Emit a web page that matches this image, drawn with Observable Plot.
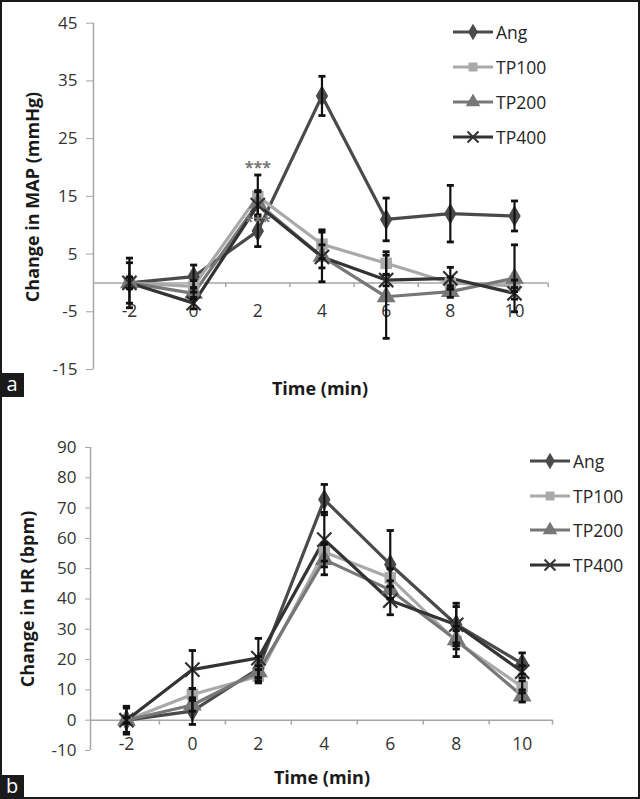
<!DOCTYPE html>
<html><head><meta charset="utf-8">
<script src="https://cdn.jsdelivr.net/npm/d3@7"></script>
<script src="https://cdn.jsdelivr.net/npm/@observablehq/plot@0.6"></script>
<style>
body{margin:0;background:#fff;}
#wrap{position:relative;width:640px;height:799px;overflow:hidden;font-family:"Open Sans",sans-serif;background:#fff;}
#frame{position:absolute;left:0;top:0;width:640px;height:799px;box-sizing:border-box;border:2px solid #1a1a1a;pointer-events:none;z-index:5;}
.panel{position:absolute;left:0;}
.ytitle{position:absolute;font-weight:bold;font-size:18px;color:#1a1a1a;white-space:nowrap;transform:translate(-50%,-50%) rotate(-90deg);}
.xtitle{position:absolute;font-weight:bold;font-size:18px;color:#1a1a1a;white-space:nowrap;transform:translate(-50%,-50%);}
.tag{position:absolute;left:0;width:24px;height:24px;background:#1a1a1a;color:#fff;font-size:20px;line-height:22px;text-align:center;z-index:6;}
.leg{position:absolute;display:flex;align-items:center;font-size:17.5px;color:#262626;height:22px;transform:translateY(-50%);}
.leg svg{margin-right:3px;}
</style></head>
<body>
<div id="wrap">
  <div id="frame"></div>
  <div id="pa" class="panel" style="top:0"></div>
  <div id="pb" class="panel" style="top:400px"></div>
  <div class="ytitle" style="left:32px;top:197px">Change in MAP (mmHg)</div>
  <div class="xtitle" style="left:320px;top:388px">Time (min)</div>
  <div class="ytitle" style="left:27px;top:599px">Change in HR (bpm)</div>
  <div class="xtitle" style="left:322px;top:777px">Time (min)</div>
  <div class="tag" style="top:373px">a</div>
  <div class="tag" style="top:775px">b</div>
  <div id="lega"></div>
  <div id="legb"></div>
</div>
<script>
// ---- data ----
const times = [-2, 0, 2, 4, 6, 8, 10];
const seriesNames = ["Ang", "TP100", "TP200", "TP400"];

// Panel a: Change in MAP (mmHg)
const mapAng      = [0, 1.1, 9.0, 32.4, 11.0, 12.0, 11.6];
const mapAngErr   = [4.3, 2.0, 2.7, 3.4, 3.7, 4.9, 2.6];
const mapTP100    = [0, -0.6, 15.0, 6.7, 3.4, 0.0, -0.5];
const mapTP100Err = [1.0, 1.0, 3.7, 2.5, 2.0, 1.0, 1.0];
const mapTP200    = [0, -1.8, 13.8, 4.6, -2.4, -1.5, 0.8];
const mapTP200Err = [1.0, 1.0, 2.0, 2.0, 7.2, 1.0, 5.8];
const mapTP400    = [0, -3.5, 13.5, 4.5, 0.5, 0.8, -1.8];
const mapTP400Err = [3.5, 1.0, 2.5, 4.3, 1.0, 1.9, 1.0];
const mapYTicks = [-15, -5, 5, 15, 25, 35, 45];
const mapStars = [{t: 2, v: 19.9, label: "***"}, {t: 2, v: 10.6, label: "***"}];

// Panel b: Change in HR (bpm)
const hrAng      = [0, 3.0, 17.0, 72.8, 51.4, 31.6, 18.7];
const hrAngErr   = [4.6, 4.4, 4.0, 5.0, 11.2, 7.0, 3.5];
const hrTP100    = [0, 8.5, 14.5, 55.5, 47.0, 26.0, 11.0];
const hrTP100Err = [1.0, 2.0, 2.2, 3.0, 3.0, 5.0, 2.0];
const hrTP200    = [0, 5.0, 16.0, 53.0, 43.0, 26.5, 8.0];
const hrTP200Err = [1.0, 2.0, 2.0, 5.0, 3.0, 3.0, 2.0];
const hrTP400    = [0, 16.7, 20.5, 59.6, 39.5, 31.5, 16.0];
const hrTP400Err = [4.0, 6.3, 6.5, 9.0, 4.7, 6.0, 2.0];
const hrYTicks = [-10, 0, 10, 20, 30, 40, 50, 60, 70, 80, 90];

// ---- styles ----
const colors  = {Ang: "#4a4a4a", TP100: "#a9a9a9", TP200: "#777777", TP400: "#333333"};
const symbols = {Ang: "diamond", TP100: "square", TP200: "triangle", TP400: "times"};
const radii   = {Ang: 6.5, TP100: 6.5, TP200: 7, TP400: 6.5};
const axisGray = "#a6a6a6";
const textGray = "#333333";

function rowsFor(vals, errs) {
  return seriesNames.map((s, k) => times.map((t, i) => ({s, t, v: vals[k][i], e: errs[k][i]})));
}

function panel({vals, errs, yDomain, yTicks, xDomain, margins, height, tickLen, labelDy, cap, stars, ytickSize}) {
  const groups = rowsFor(vals, errs);
  const bounds = times.slice(1).map((t, i) => (t + times[i]) / 2).concat([xDomain[1]]);
  const marks = [
    Plot.ruleY([0], {x1: xDomain[0], x2: xDomain[1], stroke: axisGray, strokeWidth: 1.5}),
    Plot.ruleX([xDomain[0]], {y1: yDomain[0], y2: yDomain[1], stroke: axisGray, strokeWidth: 1.5}),
    Plot.ruleX(bounds, {y1: 0, y2: -tickLen, stroke: axisGray, strokeWidth: 1.5}),
    Plot.axisY(yTicks, {anchor: "left", label: null, tickSize: ytickSize, tickPadding: 9, stroke: axisGray, fill: textGray, fontSize: 17, tickFormat: d => String(d)}),
    Plot.text(times, {x: d => d, y: 0, dy: labelDy, text: d => String(d), fontSize: 17.5, fill: textGray})
  ];
  for (const g of groups) {
    const s = g[0].s;
    marks.push(Plot.line(g, {x: "t", y: "v", stroke: colors[s], strokeWidth: 3.2}));
  }
  for (const g of groups) {
    const s = g[0].s;
    const isX = symbols[s] === "times";
    marks.push(Plot.dot(g, {x: "t", y: "v", symbol: symbols[s], r: radii[s],
      fill: isX ? "none" : colors[s], stroke: isX ? colors[s] : "none", strokeWidth: isX ? 2.2 : 0}));
  }
  for (const g of groups) {
    marks.push(Plot.ruleX(g, {x: "t", y1: d => d.v - d.e, y2: d => d.v + d.e, stroke: "#111", strokeWidth: 2.2}));
    marks.push(Plot.link(g, {x1: d => d.t - cap, x2: d => d.t + cap, y1: d => d.v + d.e, y2: d => d.v + d.e, stroke: "#111", strokeWidth: 2.8}));
    marks.push(Plot.link(g, {x1: d => d.t - cap, x2: d => d.t + cap, y1: d => d.v - d.e, y2: d => d.v - d.e, stroke: "#111", strokeWidth: 2.8}));
  }
  if (stars) marks.push(Plot.text(stars, {x: "t", y: "v", text: "label", fontSize: 16, fill: "#777", fontWeight: "bold"}));
  return Plot.plot({
    width: 640, height,
    marginTop: margins[0], marginRight: margins[1], marginBottom: margins[2], marginLeft: margins[3],
    x: {domain: xDomain, axis: null},
    y: {domain: yDomain, axis: null},
    style: {fontFamily: "Open Sans, sans-serif", fontSize: "16px", background: "transparent", overflow: "visible", color: textGray},
    marks
  });
}

document.getElementById("pa").appendChild(panel({
  vals: [mapAng, mapTP100, mapTP200, mapTP400],
  errs: [mapAngErr, mapTP100Err, mapTP200Err, mapTP400Err],
  yDomain: [-15, 45], yTicks: mapYTicks, xDomain: [-3.12, 11.05],
  margins: [22.7, 92.3, 30, 93], height: 399, tickLen: 0.8, labelDy: 28, cap: 0.11, stars: mapStars, ytickSize: 7
}));
document.getElementById("pb").appendChild(panel({
  vals: [hrAng, hrTP100, hrTP200, hrTP400],
  errs: [hrAngErr, hrTP100Err, hrTP200Err, hrTP400Err],
  yDomain: [-10, 90], yTicks: hrYTicks, xDomain: [-3.09, 10.92],
  margins: [47, 88, 49, 90], height: 399, tickLen: 1.6, labelDy: 24, cap: 0.11, stars: null, ytickSize: 5
}));

function legend(el, left, top0, step) {
  seriesNames.forEach((s, i) => {
    const row = document.createElement("div");
    row.className = "leg";
    row.style.left = left + "px";
    row.style.top = (top0 + i * step) + "px";
    const sym = d3.symbol(d3["symbol" + {diamond: "Diamond", square: "Square", triangle: "Triangle", times: "Times"}[symbols[s]]], Math.PI * radii[s] * radii[s] * 0.6)();
    const isX = symbols[s] === "times";
    row.innerHTML = `<svg width="40" height="16"><line x1="0" x2="40" y1="8" y2="8" stroke="${colors[s]}" stroke-width="3"/>` +
      `<path transform="translate(20,8)" d="${sym}" fill="${isX ? "none" : colors[s]}" stroke="${isX ? colors[s] : "none"}" stroke-width="2"/></svg><span>${s}</span>`;
    el.appendChild(row);
  });
}
legend(document.getElementById("lega"), 453, 32, 35);
legend(document.getElementById("legb"), 530, 461, 34.5);
</script>
</body></html>
